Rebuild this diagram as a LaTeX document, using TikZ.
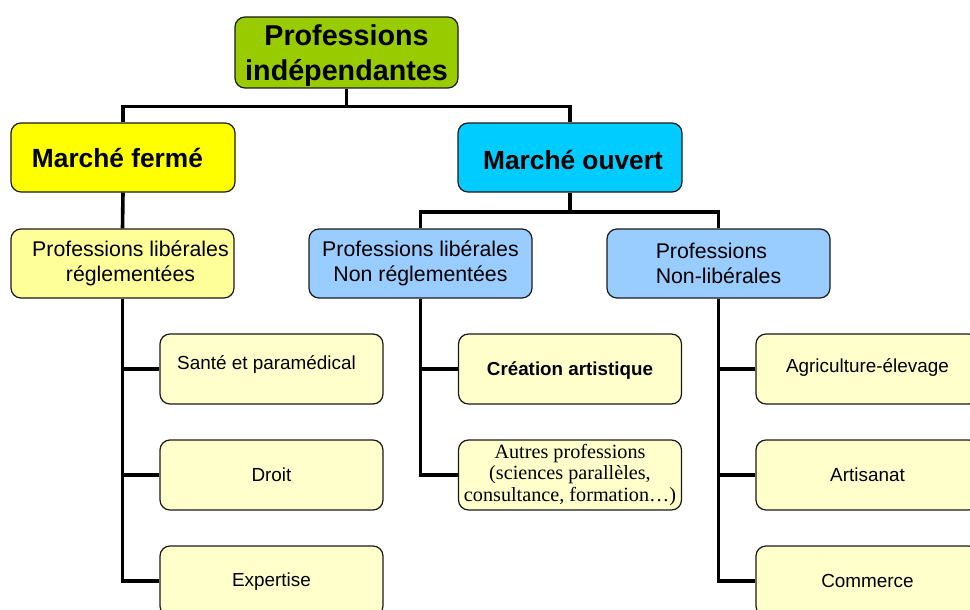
\documentclass[tikz,border=0pt]{standalone}
\usepackage{fontspec}
\setmainfont{Liberation Sans}
\newfontfamily\timesfam{Liberation Serif}
\definecolor{cgreen}{HTML}{99CC00}
\definecolor{cyellow}{HTML}{FFFF00}
\definecolor{ccyan}{HTML}{00CCFF}
\definecolor{clyellow}{HTML}{FFFF99}
\definecolor{clblue}{HTML}{99CCFF}
\definecolor{ccream}{HTML}{FFFFCC}
\definecolor{cborder}{HTML}{1A1A1A}
\begin{document}
\begin{tikzpicture}[x=1pt,y=-1pt,
  box/.style={draw=cborder, line width=1.2pt, rounded corners=10pt, inner sep=0pt, align=center},
  lvl1/.style={box, minimum width=223pt, minimum height=71pt, font=\fontsize{28.7}{35}\selectfont\bfseries},
  lvl2/.style={box, minimum width=224pt, minimum height=69pt, font=\fontsize{26.3}{30}\selectfont\bfseries},
  lvl3/.style={box, minimum width=223pt, minimum height=69pt, font=\fontsize{21.3}{25.5}\selectfont},
  lvl4/.style={box, fill=ccream, minimum width=223pt, minimum height=70pt, font=\fontsize{18.9}{22}\selectfont},
  conn/.style={line width=3.6pt, black}]
\useasboundingbox (0,0) rectangle (970,610);
\clip (0,0) rectangle (970,610);

\node[lvl1, fill=cgreen] (top) at (346.5,52.5) {\rule{0pt}{26pt}Professions\\indépendantes};
\node[lvl2, fill=cyellow] (mf) at (123,157.5) {Marché fermé\hspace*{11pt}};
\node[lvl2, fill=ccyan] (mo) at (570,157.5) {\hspace*{6pt}Marché ouvert\rule{0pt}{25pt}};

\node[lvl3, fill=clyellow] (plr) at (122.5,263.5) {\hspace*{16pt}Professions libérales\\\hspace*{16pt}réglementées};
\node[lvl3, fill=clblue] (plnr) at (420.5,263.5) {Professions libérales\\Non réglementées};
\node[lvl3, fill=clblue, align=left] (pnl) at (718.5,263.5) {Professions\\Non-libérales};

\node[lvl4, text depth=12pt] (sante) at (271.5,369) {Santé et paramédical\hspace*{10pt}};
\node[lvl4] (droit) at (271.5,475) {Droit};
\node[lvl4, text depth=2pt] (expert) at (271.5,581) {Expertise};

\node[lvl4, font=\fontsize{18.8}{22}\selectfont\bfseries, text height=17pt] (crea) at (570,369) {Création artistique};
\node[lvl4, font=\timesfam\fontsize{20.2}{21.5}\selectfont] (autres) at (570,475) {Autres professions\\(sciences parallèles,\\consultance, formation…)};

\node[lvl4, text depth=6pt] (agri) at (867.5,369) {Agriculture-élevage};
\node[lvl4] (arti) at (867.5,475) {Artisanat};
\node[lvl4] (comm) at (867.5,581) {Commerce};

\coordinate (j1) at (346.5,106.5);
\coordinate (j2) at (570,212);
\draw[conn] (top.south) -- (j1);
\draw[conn] (mf.north) |- (j1) -| (mo.north);
\draw[conn] (mf.south) -- (plr.north);
\draw[conn] (mo.south) -- (j2);
\draw[conn] (plnr.north) |- (j2) -| (pnl.north);

\draw[conn] (plr.south) |- (sante.west);
\draw[conn] (plr.south) |- (droit.west);
\draw[conn] (plr.south) |- (expert.west);

\draw[conn] (plnr.south) |- (crea.west);
\draw[conn] (plnr.south) |- (autres.west);

\draw[conn] (pnl.south) |- (agri.west);
\draw[conn] (pnl.south) |- (arti.west);
\draw[conn] (pnl.south) |- (comm.west);
\end{tikzpicture}
\end{document}
